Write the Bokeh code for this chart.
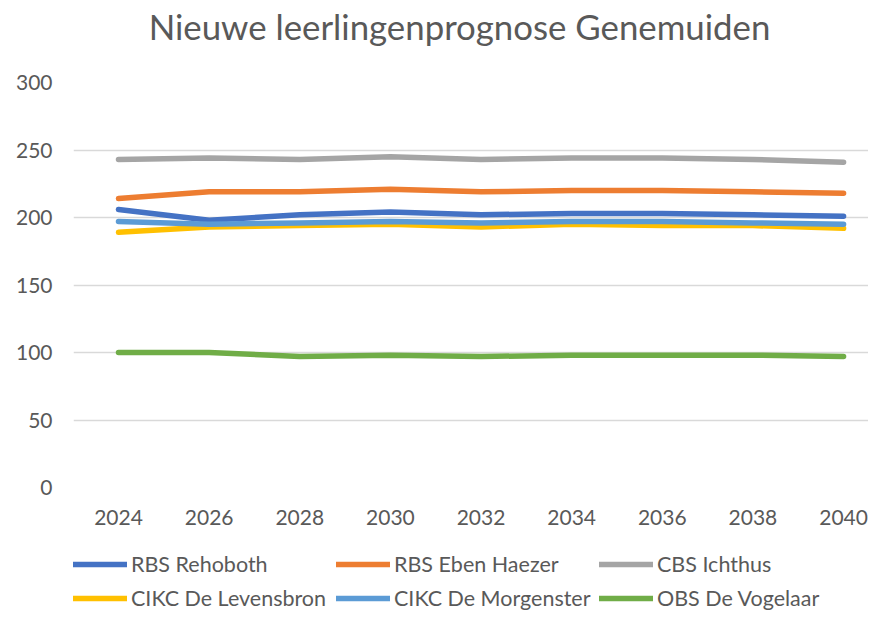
from bokeh.plotting import figure
from bokeh.models import Legend, LegendItem, FixedTicker, Range1d, Label
from bokeh.layouts import column
from bokeh.embed import file_html
from bokeh.resources import INLINE

title_text = "Nieuwe leerlingenprognose Genemuiden"
years = [2024, 2026, 2028, 2030, 2032, 2034, 2036, 2038, 2040]
rehoboth = [206, 198, 202, 204, 202, 203, 203, 202, 201]
eben_haezer = [214, 219, 219, 221, 219, 220, 220, 219, 218]
ichthus = [243, 244, 243, 245, 243, 244, 244, 243, 241]
levensbron = [189, 193, 194, 195, 193, 195, 194, 194, 192]
morgenster = [197, 195, 196, 197, 196, 197, 197, 196, 195]
vogelaar = [100, 100, 97, 98, 97, 98, 98, 98, 97]
y_ticks = [0, 50, 100, 150, 200, 250, 300]

series = [
    ("RBS Rehoboth", rehoboth, "#4472C4"),
    ("RBS Eben Haezer", eben_haezer, "#ED7D31"),
    ("CBS Ichthus", ichthus, "#A5A5A5"),
    ("CIKC De Levensbron", levensbron, "#FFC000"),
    ("CIKC De Morgenster", morgenster, "#5B9BD5"),
    ("OBS De Vogelaar", vogelaar, "#70AD47"),
]

FONT = "Lato"
TXT = "#595959"


def blank(h, left=0):
    f = figure(width=868, height=h, output_backend="svg", toolbar_location=None,
               x_range=Range1d(0, 1), y_range=Range1d(0, 1),
               x_axis_location=None, y_axis_location=None,
               min_border_left=left, min_border_right=0, min_border_top=0,
               min_border_bottom=0)
    f.outline_line_color = None
    f.xgrid.grid_line_color = None
    f.ygrid.grid_line_color = None
    f.border_fill_color = "white"
    f.background_fill_color = "white"
    return f


# title strip (its frame is aligned with the chart frame, starting at x=73)
pt = blank(62, left=73)
pt.add_layout(Label(x=386, y=36, x_units="screen", y_units="screen",
                    text=title_text, text_align="center", text_baseline="middle",
                    text_font=FONT, text_font_size="34.8px", text_color=TXT))

# main chart
p = figure(width=868, height=473, output_backend="svg", toolbar_location=None,
           x_range=Range1d(2023.007, 2040.55), y_range=Range1d(0, 300),
           min_border_left=73, min_border_right=0, min_border_top=20,
           min_border_bottom=48)
p.outline_line_color = None
p.background_fill_color = "white"
p.border_fill_color = "white"
p.xgrid.grid_line_color = None
p.ygrid.grid_line_color = "#D9D9D9"
p.ygrid.grid_line_width = 1.3
p.yaxis.ticker = FixedTicker(ticks=y_ticks)
p.xaxis.ticker = FixedTicker(ticks=years)
for ax in (p.xaxis, p.yaxis):
    ax.axis_line_color = None
    ax.major_tick_line_color = None
    ax.minor_tick_line_color = None
    ax.major_label_text_font = FONT
    ax.major_label_text_font_size = "21px"
    ax.major_label_text_color = TXT
p.yaxis.major_label_standoff = 15
p.xaxis.major_label_standoff = 16

for name, vals, col in series:
    p.line(years, vals, line_color=col, line_width=5.5,
           line_cap="round", line_join="round")

# legend strip (proxy lines lie outside its empty range)
p2 = blank(76, left=73)
items = []
for name, vals, col in series:
    r = p2.line(years, vals, line_color=col, line_width=5.5, line_cap="round")
    items.append(LegendItem(label=name, renderers=[r]))

legend = Legend(items=items, orientation="horizontal", ncols=3,
                location=(0, 0),
                glyph_width=54, glyph_height=26, label_height=26,
                label_width=197, label_standoff=4, spacing=8,
                padding=0, margin=0,
                border_line_color=None, background_fill_alpha=0,
                label_text_font=FONT, label_text_font_size="21.5px",
                label_text_color=TXT)
p2.add_layout(legend, "center")

layout = column(pt, p, p2, spacing=0)
open("out.html", "w").write(file_html(layout, INLINE))
